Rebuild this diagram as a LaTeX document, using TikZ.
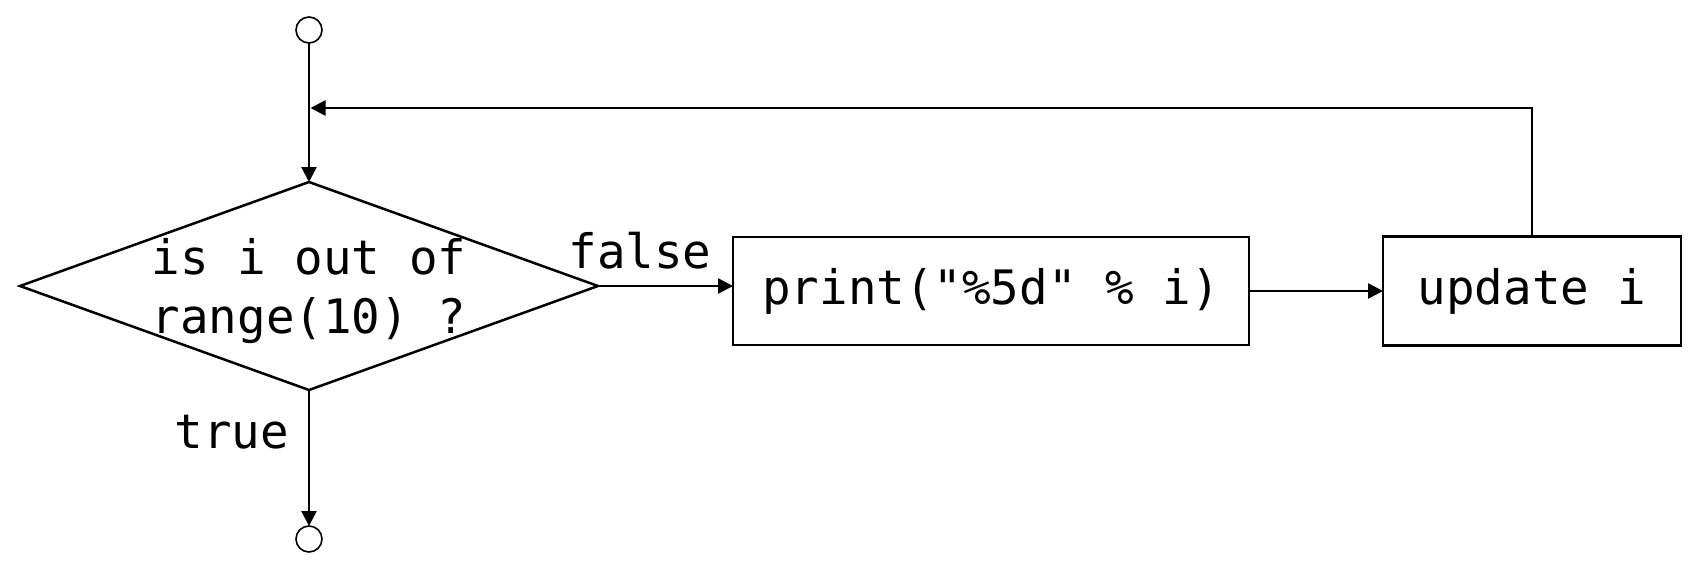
\documentclass[tikz,border=0pt]{standalone}
\usepackage{fontspec}
\newfontfamily\codefont{DejaVu Sans Mono}
\usetikzlibrary{shapes.geometric,arrows.meta}
\begin{document}
\begin{tikzpicture}[x=1pt,y=-1pt,
  line/.style={line width=2.5pt},
  arr/.style={line, -{Triangle[length=15pt,width=15pt]}},
  term/.style={circle, draw, line width=1.6pt, minimum size=26pt, inner sep=0pt, outer sep=0pt},
  decision/.style={diamond, draw, line width=2.5pt, minimum width=578pt, minimum height=208pt, inner sep=0pt, outer sep=0pt},
  codetext/.style={font=\codefont\fontsize{47.5}{59}\selectfont},
  proc/.style={rectangle, draw, line width=2.4pt, inner sep=0pt, outer sep=0pt, codetext},
  lbl/.style={inner sep=0pt, codetext}]
\useasboundingbox (0,0) rectangle (1703,574);
\node[term] (start) at (309,30) {};
\node[decision] (dec) at (309,286) {};
\node[lbl, align=center] (dtext) at (309,291) {is i out of\\range(10) ?};
\node[proc, minimum width=516pt, minimum height=108pt] (print) at (991,291) {print("\%5d" \% i)};
\node[proc, minimum width=298pt, minimum height=109pt] (upd) at (1532,291) {update i};
\node[term] (end) at (309,539) {};
\coordinate (join) at (310.5,108);
\draw[arr] (start) -- (dec.north);
\draw[arr] (upd.north) |- (join);
\draw[arr] (dec.east) -- (dec.east -| print.west);
\draw[arr] (print.east) -- (print.east -| upd.west);
\draw[arr] (dec.south) -- (end.north);
\node[lbl, anchor=base] (flabel) at (640,268) {false};
\node[lbl, anchor=base] (tlabel) at (232,448) {true};
\end{tikzpicture}
\end{document}
